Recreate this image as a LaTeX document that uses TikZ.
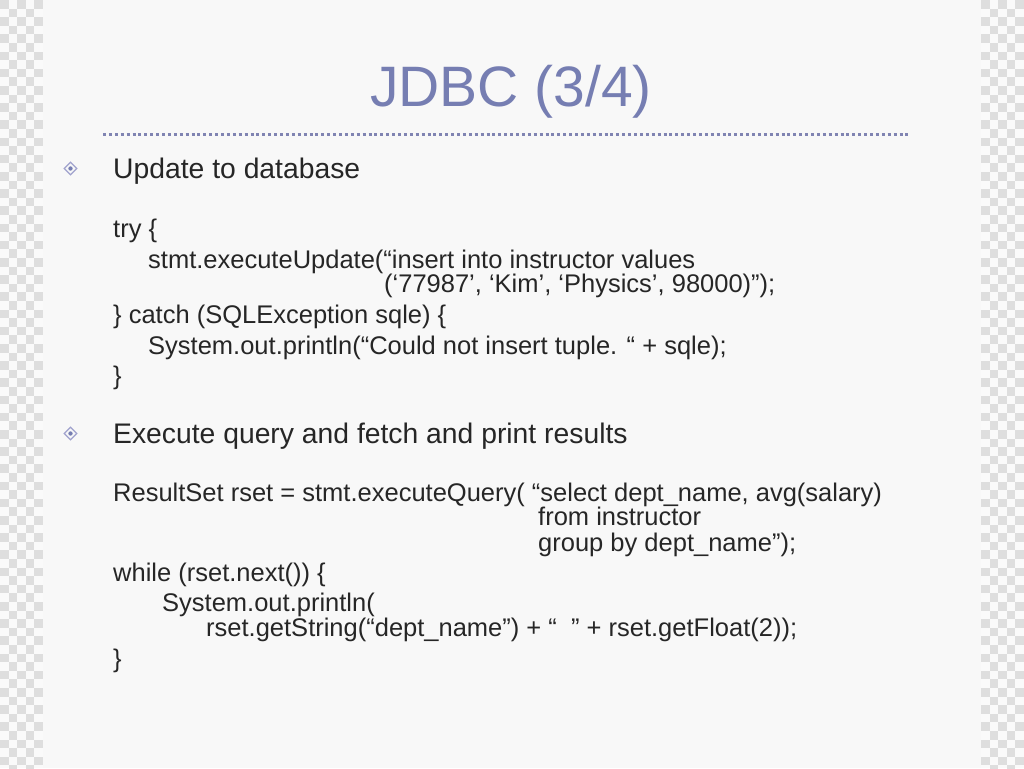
\documentclass[tikz,border=0pt]{standalone}
\usepackage{fontspec}
\usetikzlibrary{shapes.geometric}
\setmainfont{Liberation Sans}
\definecolor{titleblue}{RGB}{118,126,178}
\definecolor{dotblue}{RGB}{128,132,178}
\definecolor{bulletline}{RGB}{160,162,205}
\definecolor{bodytext}{RGB}{38,38,38}
\definecolor{slidebg}{RGB}{248,248,248}
\definecolor{checkdark}{RGB}{222,222,222}
\definecolor{checklight}{RGB}{250,250,250}
\begin{document}
\begin{tikzpicture}[x=1pt,y=-1pt,
  txt/.style={anchor=base west, inner sep=0pt, text=bodytext, font=\fontsize{28.3}{32}\selectfont},
  code/.style={anchor=base west, inner sep=0pt, text=bodytext, font=\fontsize{25.5}{30}\selectfont},
  bulletmark/.style={diamond, draw=bulletline, line width=1.3pt, inner sep=0pt, minimum size=13pt},
]
\useasboundingbox (0,0) rectangle (1024,768);
\fill[slidebg] (0,0) rectangle (1024,768);
% checkerboard margins
\fill[checklight] (0,0) rectangle (43,768);
\fill[checklight] (981,0) rectangle (1024,768);
\foreach \r in {0,...,89}{
  \foreach \c in {0,...,4}{
    \pgfmathtruncatemacro{\parity}{mod(\r+\c,2)}
    \ifnum\parity=0
      \fill[checkdark] (\c*8.6,\r*8.6) rectangle ({min(\c*8.6+8.6,43)},\r*8.6+8.6);
      \fill[checkdark] (981+\c*8.6,\r*8.6) rectangle ({min(981+\c*8.6+8.6,1024)},\r*8.6+8.6);
    \fi
  }
}
% title
\node[anchor=base, inner sep=0pt, text=titleblue, font=\fontsize{57}{60}\selectfont] (title) at (511,106) {JDBC (3/4)};
\coordinate (rulestart) at (103,134.5);
\coordinate (ruleend) at (908,134.5);
\draw[dotblue, line width=3pt, dash pattern=on 3pt off 2.9pt] (rulestart) -- (ruleend);
% bullets
\node[bulletmark] (b1) at (70.5,168.5) {};
\fill[titleblue] (b1.center) circle (2.2pt);
\node[bulletmark] (b2) at (70.5,433.5) {};
\fill[titleblue] (b2.center) circle (2.2pt);
% first block
\node[txt] (h1) at (113,178) {Update to database};
\node[code] (c1) at (113,237) {try \{};
\node[code] (c2) at (148,268) {stmt.executeUpdate(“insert into instructor values};
\node[code] (c3) at (384,292) {(‘77987’, ‘Kim’, ‘Physics’, 98000)”);};
\node[code] (c4) at (113,323) {\} catch (SQLException sqle) \{};
\node[code] (c5) at (148,354) {System.out.println(“Could not insert tuple. “ + sqle);};
\node[code] (c6) at (113,384) {\}};
% second block
\node[txt] (h2) at (113,443) {Execute query and fetch and print results};
\node[code] (d1) at (113,501) {ResultSet rset = stmt.executeQuery( “select dept\_name, avg(salary)};
\node[code] (d2) at (538,525) {from instructor};
\node[code] (d3) at (538,551) {group by dept\_name”);};
\node[code] (d4) at (113,581) {while (rset.next()) \{};
\node[code] (d5) at (162,611) {System.out.println(};
\node[code] (d6) at (206,636) {rset.getString(“dept\_name”) + “\ \ ” + rset.getFloat(2));};
\node[code] (d7) at (113,667) {\}};
\end{tikzpicture}
\end{document}
